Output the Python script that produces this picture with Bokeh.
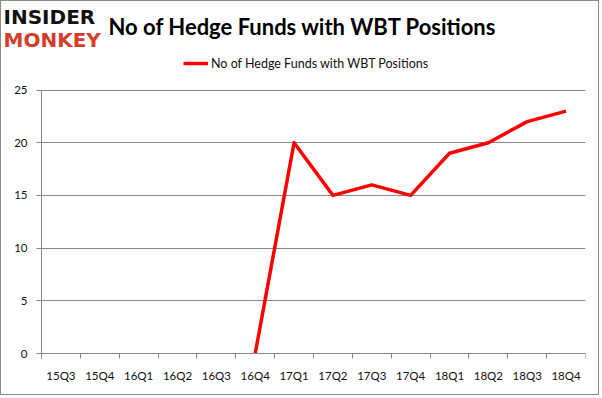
from bokeh.plotting import figure
from bokeh.models import (Range1d, FixedTicker, Grid,
                          Legend, LegendItem, Label, ColumnDataSource)
from bokeh.embed import file_html
from bokeh.resources import INLINE

nan = float("nan")

# ---- data ----
quarters = ["15Q3", "15Q4", "16Q1", "16Q2", "16Q3", "16Q4", "17Q1",
            "17Q2", "17Q3", "17Q4", "18Q1", "18Q2", "18Q3", "18Q4"]
funds = [nan, nan, nan, nan, nan, 0, 20, 15, 16, 15, 19, 20, 22, 23]
y_ticks = [0, 5, 10, 15, 20, 25]
title_text = "No of Hedge Funds with WBT Positions"
series_name = "No of Hedge Funds with WBT Positions"
logo_top = "INSIDER"
logo_bottom = "MONKEY"

GRAY = "#868686"
FONT = "Lato"

n = len(quarters)
y_max = y_ticks[-1]
centres = [i + 0.5 for i in range(n)]      # category slot centres
edges = list(range(n + 1))                 # category slot edges

# ---- layout (pixels) ----
W, H = 599, 395
FR = 15                    # right border; frame covers the rest of the canvas
AXIS_X = 40                # plot-area left edge inside the frame
TOP_Y = 88.5               # plot-area top edge inside the frame
BOT_Y = 352                # plot-area bottom edge inside the frame
frame_w, frame_h = W - FR, H
x_start = -n * AXIS_X / (frame_w - AXIS_X)
ppu = (BOT_Y - TOP_Y) / y_max
y_start = -(frame_h - BOT_Y) / ppu
y_end = y_max + TOP_Y / ppu

p = figure(width=W, height=H, x_range=Range1d(x_start, n), y_range=Range1d(y_start, y_end),
           output_backend="svg", toolbar_location=None, title_location=None,
           min_border_left=0, min_border_right=FR, min_border_top=0, min_border_bottom=0)
p.styles = {"border": "1px solid #8a8a8a"}
p.outline_line_color = None
p.background_fill_color = "white"
p.border_fill_color = "white"

src = ColumnDataSource(dict(x=centres, v=funds, q=quarters))
r = p.line("x", "v", source=src, line_color="#ff0000", line_width=3.5, line_join="round")

# y axis, fixed at the left edge of the plot area
ya = p.yaxis[0]
ya.fixed_location = 0
ya.bounds = (0, y_max)
ya.ticker = FixedTicker(ticks=y_ticks, minor_ticks=[])
ya.axis_line_color = GRAY
ya.major_tick_line_color = GRAY
ya.major_tick_out = 5
ya.major_tick_in = 0
ya.minor_tick_line_color = None
ya.major_label_standoff = 9
ya.major_label_text_font = FONT
ya.major_label_text_font_size = "11.5px"
ya.major_label_text_color = "#111111"

p.xgrid.visible = False
yg = p.ygrid[0]
yg.ticker = FixedTicker(ticks=y_ticks, minor_ticks=[])
yg.grid_line_color = GRAY
if "cross_bounds" in Grid.properties():
    yg.cross_bounds = (0, n)
else:
    yg.visible = False
    p.segment(x0=[0] * len(y_ticks), x1=[n] * len(y_ticks), y0=y_ticks, y1=y_ticks,
              line_color=GRAY, line_width=1, level="underlay")

# x axis at y = 0: ticks at category edges (minor), labels at centres (major)
xa = p.xaxis[0]
xa.fixed_location = 0
xa.bounds = (0, n)
xa.ticker = FixedTicker(ticks=centres, minor_ticks=edges)
xa.major_label_overrides = {c: q for c, q in zip(centres, quarters)}
xa.axis_line_color = GRAY
xa.major_tick_line_color = None
xa.major_tick_out = 5
xa.major_tick_in = 0
xa.minor_tick_line_color = GRAY
xa.minor_tick_out = 5
xa.minor_tick_in = 0
xa.major_label_standoff = 10
xa.major_label_text_font = FONT
xa.major_label_text_font_size = "11.5px"
xa.major_label_text_color = "#111111"

# legend above the plot area
legend = Legend(items=[LegendItem(label=series_name, renderers=[r])],
                location=(182, frame_h - 72), orientation="horizontal",
                border_line_color=None, background_fill_alpha=0,
                padding=0, margin=0, glyph_width=25, label_standoff=3,
                label_text_font=FONT, label_text_font_size="12.5px",
                label_text_color="#111111")
p.add_layout(legend, "center")

# title and logo
p.add_layout(Label(x=107, y=frame_h - 25, x_units="screen", y_units="screen", text=title_text,
                   text_font=FONT, text_font_style="bold", text_font_size="22px",
                   text_color="#000000", text_baseline="middle"))
p.add_layout(Label(x=2, y=frame_h - 15.5, x_units="screen", y_units="screen", text=logo_top,
                   text_font="DejaVu Sans", text_font_style="bold", text_font_size="20px",
                   text_color="#111111", text_baseline="middle"))
p.add_layout(Label(x=2, y=frame_h - 38, x_units="screen", y_units="screen", text=logo_bottom,
                   text_font="DejaVu Sans", text_font_style="bold", text_font_size="20px",
                   text_color="#d63c2a", text_baseline="middle"))

open("out.html", "w").write(file_html(p, INLINE))
